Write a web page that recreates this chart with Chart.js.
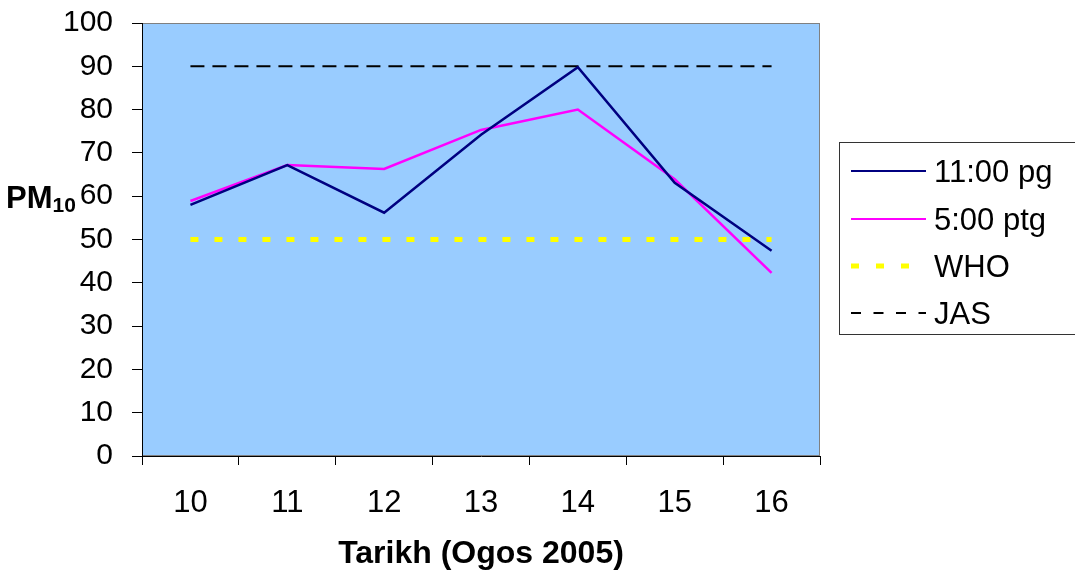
<!DOCTYPE html>
<html>
<head>
<meta charset="utf-8">
<script src="https://cdn.jsdelivr.net/npm/chart.js@4/dist/chart.umd.min.js"></script>
<style>
  html, body { margin: 0; padding: 0; background: #fff; }
  #wrap { width: 1075px; height: 576px; }
</style>
</head>
<body>
<div id="wrap"><canvas id="c" width="1075" height="576"></canvas></div>
<script>
// data
const tarikh = ['10', '11', '12', '13', '14', '15', '16'];
const pagi = [58, 67.2, 56.2, 74.2, 89.8, 63.1, 47.4];     // 11:00 pg
const petang = [58.9, 67.2, 66.3, 75.3, 80, 63.9, 42.3];  // 5:00 ptg
const who = [50, 50, 50, 50, 50, 50, 50];
const jas = [90, 90, 90, 90, 90, 90, 90];
const yTicks = [0, 10, 20, 30, 40, 50, 60, 70, 80, 90, 100];

const FONT = "'Liberation Sans', Arial, sans-serif";

// plot background + frame
const plotBg = {
  id: 'plotBg',
  beforeDraw(chart) {
    const a = chart.chartArea, ctx = chart.ctx;
    ctx.save();
    ctx.fillStyle = '#99CCFF';
    ctx.fillRect(a.left, a.top, a.right - a.left, a.bottom - a.top);
    ctx.strokeStyle = '#808080';
    ctx.lineWidth = 1;
    ctx.strokeRect(a.left + 0.5, a.top + 0.5, a.right - a.left - 1, a.bottom - a.top - 1);
    ctx.restore();
  }
};

// PM10 axis label with subscript
const yLabel = {
  id: 'yLabel',
  afterDraw(chart) {
    const ctx = chart.ctx;
    ctx.save();
    ctx.fillStyle = '#000';
    ctx.textBaseline = 'alphabetic';
    ctx.font = 'bold 31px ' + FONT;
    ctx.fillText('PM', 6, 208);
    const w = ctx.measureText('PM').width;
    ctx.font = 'bold 21px ' + FONT;
    ctx.fillText('10', 6 + w, 212);
    ctx.restore();
  }
};

// boxed legend on the right
const sideLegend = {
  id: 'sideLegend',
  afterDraw(chart) {
    const ctx = chart.ctx;
    ctx.save();
    ctx.strokeStyle = '#333';
    ctx.lineWidth = 1;
    ctx.strokeRect(839.5, 142.5, 240, 192);
    const rows = [171, 219, 266, 313];
    chart.data.datasets.forEach((ds, i) => {
      const y = rows[i];
      ctx.beginPath();
      ctx.strokeStyle = ds.borderColor;
      ctx.lineWidth = ds.legendWidth || ds.borderWidth;
      ctx.setLineDash(ds.legendDash || []);
      ctx.moveTo(851, y);
      ctx.lineTo(926, y);
      ctx.stroke();
      ctx.setLineDash([]);
      ctx.fillStyle = '#000';
      ctx.font = '31px ' + FONT;
      ctx.textBaseline = 'alphabetic';
      ctx.fillText(ds.label, 934, y + 11);
    });
    ctx.restore();
  }
};

new Chart(document.getElementById('c'), {
  type: 'line',
  data: {
    labels: tarikh,
    datasets: [
      { label: '11:00 pg', data: pagi, borderColor: '#000080', borderWidth: 2.5, legendWidth: 2, pointRadius: 0, tension: 0 },
      { label: '5:00 ptg', data: petang, borderColor: '#FF00FF', borderWidth: 2.5, legendWidth: 2, pointRadius: 0, tension: 0 },
      { label: 'WHO', data: who, borderColor: '#FFFF00', borderWidth: 5, borderDash: [8, 16], legendDash: [8, 17], legendWidth: 5, pointRadius: 0, tension: 0 },
      { label: 'JAS', data: jas, borderColor: '#000000', borderWidth: 2, borderDash: [14, 8], legendDash: [10, 12.5], legendWidth: 2, pointRadius: 0, tension: 0 }
    ]
  },
  options: {
    responsive: false,
    devicePixelRatio: 1,
    animation: false,
    layout: { padding: { top: 23, right: 255, left: 0, bottom: 0 } },
    plugins: { legend: { display: false }, tooltip: { enabled: false } },
    scales: {
      x: {
        offset: true,
        grid: { offset: true, drawOnChartArea: false, drawTicks: true, tickLength: 9, color: '#000' },
        border: { display: true, color: '#000', width: 1 },
        ticks: { color: '#000', font: { family: FONT, size: 31 }, padding: 20, maxRotation: 0 },
        title: { display: true, text: 'Tarikh (Ogos 2005)', color: '#000', font: { family: FONT, size: 32, weight: 'bold' }, padding: { top: 0, bottom: 3 } },
        afterFit(scale) {
          scale.height = 120;
          scale.paddingLeft = 0; scale.paddingRight = 0;
        }
      },
      y: {
        min: 0,
        max: 100,
        afterBuildTicks(scale) { scale.ticks = yTicks.map(v => ({ value: v })); },
        grid: { drawOnChartArea: false, drawTicks: true, tickLength: 10, color: '#000' },
        border: { display: true, color: '#000', width: 1 },
        ticks: { color: '#000', font: { family: FONT, size: 30 }, padding: 19 },
        afterFit(scale) {
          scale.width = 142;
          scale.paddingTop = 0; scale.paddingBottom = 0;
        }
      }
    }
  },
  plugins: [plotBg, yLabel, sideLegend]
});
</script>
</body>
</html>
